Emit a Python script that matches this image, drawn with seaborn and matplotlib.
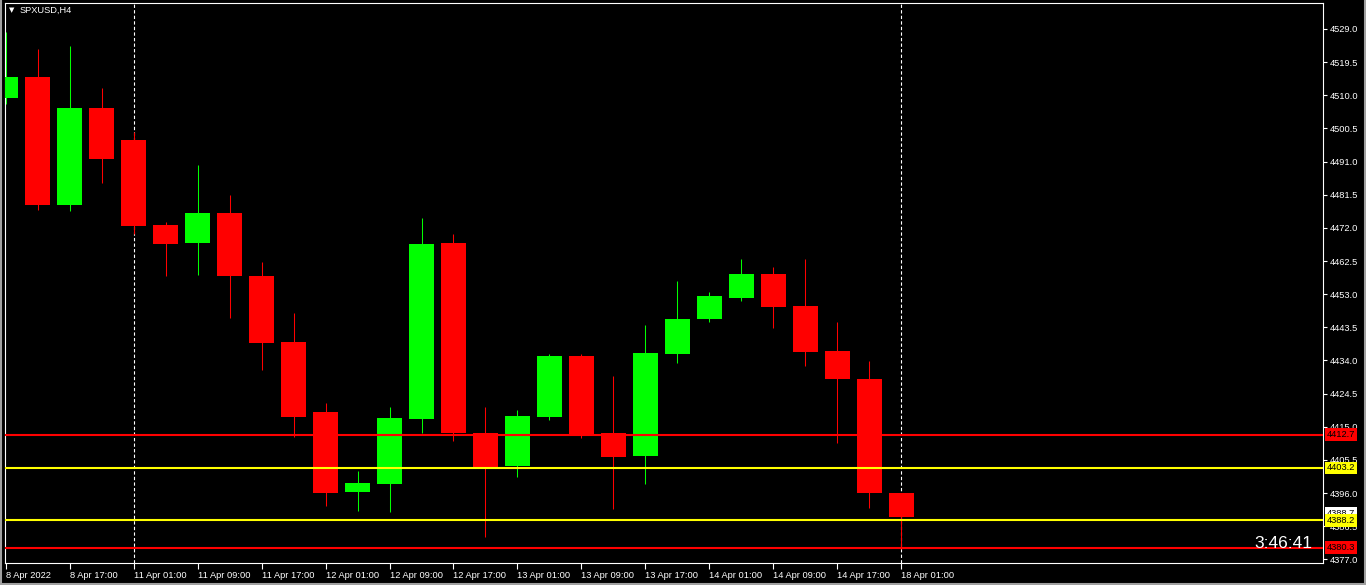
import matplotlib
matplotlib.use("Agg")
import matplotlib.pyplot as plt
import matplotlib.transforms as mtransforms
from matplotlib.lines import Line2D
import seaborn as sns
import numpy as np

# SPXUSD H4 bars
bar_open = [4509.2, 4515.2, 4478.6, 4506.4, 4497.2, 4472.8, 4467.7, 4476.3, 4458.2, 4439.3,
            4419.2, 4396.3, 4398.6, 4417.2, 4467.7, 4413.2, 4403.7, 4417.8, 4435.3, 4413.2,
            4406.6, 4435.9, 4445.9, 4451.9, 4458.8, 4449.6, 4436.7, 4428.7, 4396.0]
bar_high = [4528.1, 4523.3, 4524.1, 4512.1, 4499.5, 4473.7, 4490.0, 4481.4, 4462.2, 4447.6,
            4421.8, 4402.3, 4420.7, 4474.8, 4470.2, 4420.7, 4419.8, 4435.8, 4435.8, 4429.5,
            4444.2, 4456.8, 4453.6, 4463.1, 4460.8, 4463.1, 4445.0, 4433.8, 4396.0]
bar_low = [4507.5, 4477.1, 4476.8, 4484.9, 4470.2, 4458.2, 4458.6, 4446.2, 4431.3, 4412.1,
           4392.3, 4390.9, 4390.6, 4413.2, 4411.0, 4383.4, 4400.6, 4416.9, 4411.8, 4391.4,
           4398.6, 4433.3, 4445.0, 4451.0, 4443.3, 4432.4, 4410.4, 4391.7, 4380.0]
bar_close = [4515.2, 4478.6, 4506.4, 4491.7, 4472.5, 4467.4, 4476.3, 4458.2, 4439.0, 4417.8,
             4396.0, 4398.9, 4417.5, 4467.4, 4413.2, 4403.5, 4418.1, 4435.3, 4412.4, 4406.3,
             4436.1, 4445.9, 4452.5, 4458.8, 4449.3, 4436.4, 4428.7, 4396.0, 4389.0]

time_labels = ["8 Apr 2022", "8 Apr 17:00", "11 Apr 01:00", "11 Apr 09:00", "11 Apr 17:00",
               "12 Apr 01:00", "12 Apr 09:00", "12 Apr 17:00", "13 Apr 01:00", "13 Apr 09:00",
               "13 Apr 17:00", "14 Apr 01:00", "14 Apr 09:00", "14 Apr 17:00", "18 Apr 01:00"]
separator_bars = [4, 28]  # period separators (11 Apr, 18 Apr)

price_ticks = [4377.0, 4386.5, 4396.0, 4405.5, 4415.0, 4424.5, 4434.0, 4443.5, 4453.0,
               4462.5, 4472.0, 4481.5, 4491.0, 4500.5, 4510.0, 4519.5, 4529.0]

level_prices = [4412.7, 4403.2, 4388.2, 4380.3]
level_colors = ["#ff0000", "#ffff00", "#ffff00", "#ff0000"]

countdown = "3:46:41"
symbol = "SPXUSD,H4"

sns.set_theme(style="dark", rc={"axes.facecolor": "black", "figure.facecolor": "black",
                                "axes.edgecolor": "white", "xtick.color": "white",
                                "ytick.color": "white", "text.color": "white"})
plt.rcParams["font.family"] = ["Liberation Sans", "DejaVu Sans"]

W, H = 1366, 585
fig = plt.figure(figsize=(W / 100, H / 100), dpi=100)
ax = fig.add_axes([5 / W, 22 / H, 1318 / W, 560 / H])

n = len(bar_open)
x = np.arange(n)
o = np.array(bar_open)
c = np.array(bar_close)
colors = np.where(c > o, "#00ff00", "#ff0000")

ax.vlines(x, bar_low, bar_high, colors=colors, linewidth=0.75, zorder=2)
ax.bar(x, c - o, bottom=o, width=0.78, color=colors, linewidth=0, zorder=3)

for b in separator_bars:
    ax.axvline(b, color="white", linestyle=(0, (3, 2)), linewidth=0.8, zorder=1)

for p, col in zip(level_prices, level_colors):
    ax.axhline(p, color=col, linewidth=1.5, zorder=4)

ax.set_xlim(-0.03, 41.2)
ax.set_ylim(4375.95, 4536.45)

ax.set_xticks(range(0, n, 2))
ax.set_xticklabels(time_labels, ha="left")
ax.set_yticks(price_ticks)
ax.set_yticklabels([f"{t:.1f}" for t in price_ticks])
ax.yaxis.tick_right()
ax.tick_params(axis="x", direction="out", length=4, width=0.8, pad=1.5, labelsize=6.7,
               bottom=True)
ax.tick_params(axis="y", direction="out", length=3, width=0.8, pad=2, labelsize=6.7,
               right=True, left=False)
ax.grid(False)
for s in ax.spines.values():
    s.set_color("white")
    s.set_linewidth(0.8)

# price labels on the right scale
trans = mtransforms.blended_transform_factory(ax.transAxes, ax.transData)
ax.text(1 + 4 / 1318, 4390.2, "4388.7", transform=trans, va="center", ha="left",
        color="black", fontsize=6.7, clip_on=False, zorder=5,
        bbox=dict(boxstyle="square,pad=0.2", fc="white", ec="none"))
for p, col in zip(level_prices, level_colors):
    ax.text(1 + 4 / 1318, p, f"{p:.1f}", transform=trans, va="center", ha="left",
            color="black", fontsize=6.7, clip_on=False, zorder=6,
            bbox=dict(boxstyle="square,pad=0.2", fc=col, ec="none"))

ax.text(1307 / 1318, 19 / 560, countdown, transform=ax.transAxes, ha="right",
        va="center", color="white", fontsize=12.5, zorder=7)

fig.text(12 / W, 1 - 10 / H, "\u25bc", ha="center", va="center", fontsize=5,
         color="white", family="DejaVu Sans")
fig.text(20 / W, 1 - 10 / H, symbol, ha="left", va="center", fontsize=6.7, color="white")

# window frame
for xs, ys in [([0.5 / W, 0.5 / W], [0, 1]), ([1 - 1 / W, 1 - 1 / W], [0, 1]),
               ([0, 1], [1.5 / H, 1.5 / H])]:
    fig.add_artist(Line2D(xs, ys, color="#a0a0a0", linewidth=1.5))

fig.savefig("out.png", dpi=100, facecolor="black")
